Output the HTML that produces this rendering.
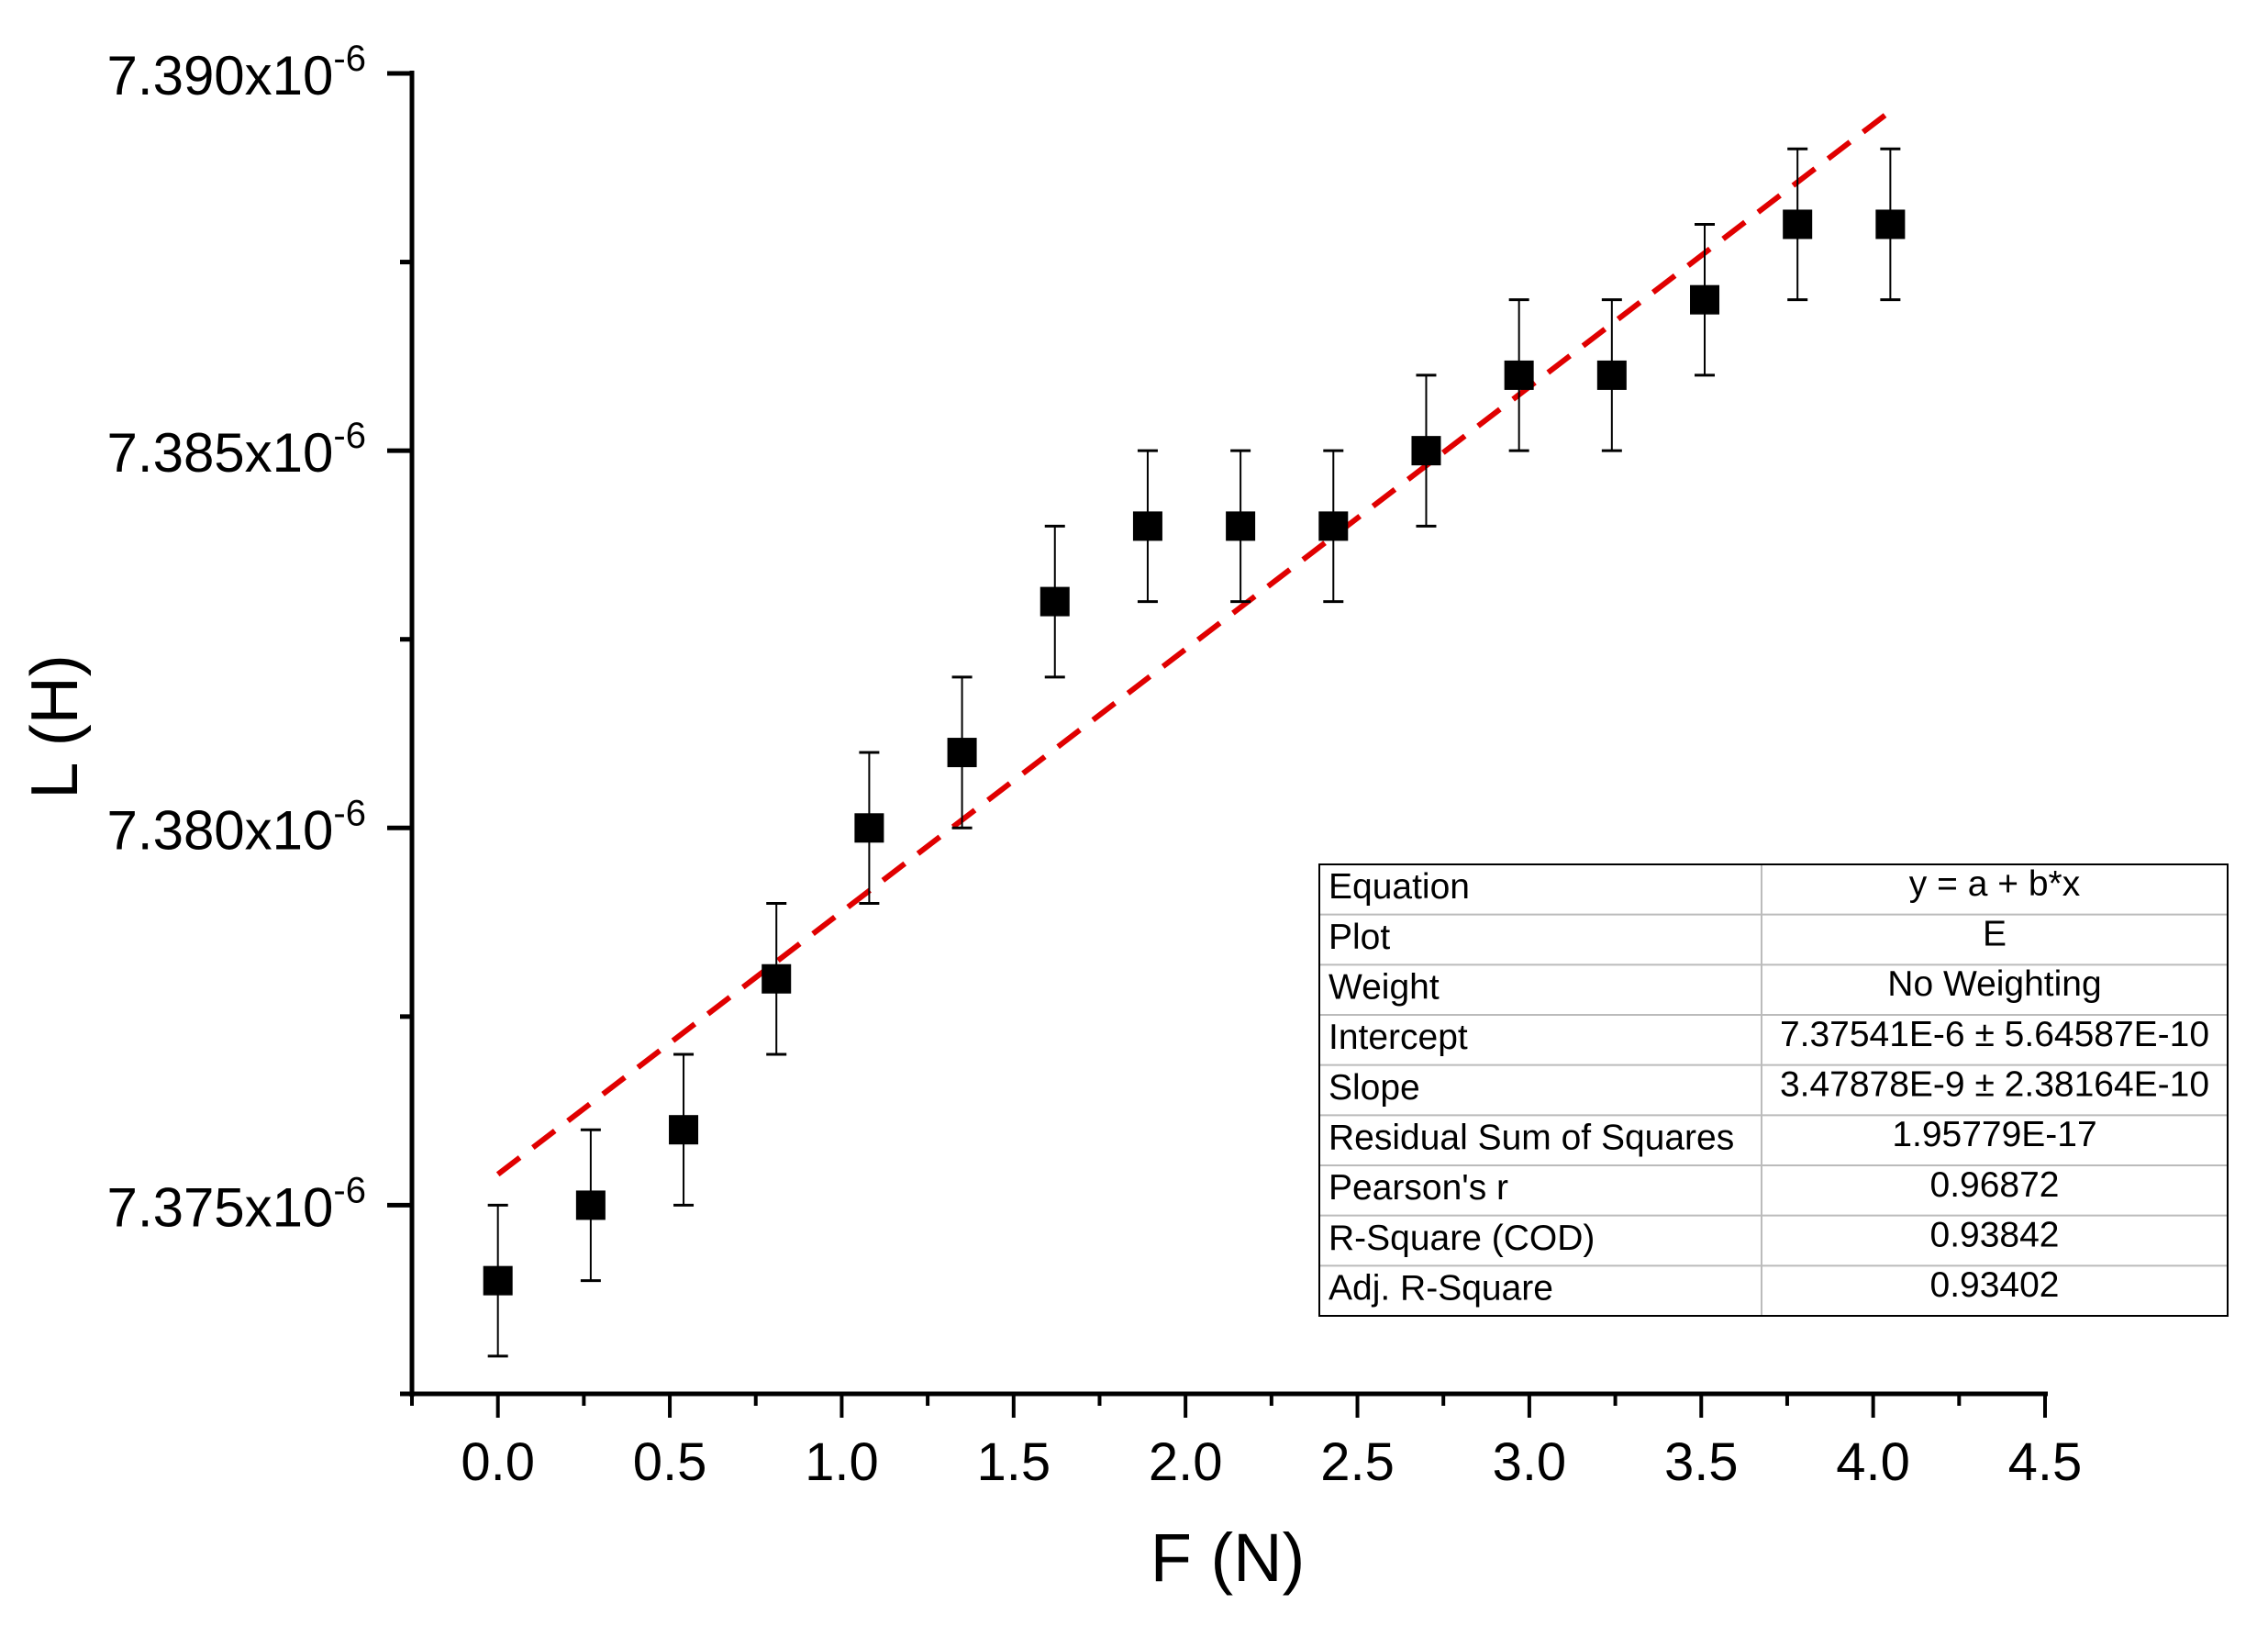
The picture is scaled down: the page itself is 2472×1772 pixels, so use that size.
<!DOCTYPE html>
<html><head><meta charset="utf-8"><style>
html,body{margin:0;padding:0;background:#fff}
svg{display:block;font-family:"Liberation Sans",Arial,sans-serif}
</style></head><body>
<svg id="chart" width="2472" height="1772" viewBox="0 0 2472 1772" xmlns="http://www.w3.org/2000/svg">
<rect width="2472" height="1772" fill="#fff"/>
<g id="axes"></g>
<g id="fit"></g>
<g id="points"></g>
<text transform="translate(84,792) rotate(-90)" text-anchor="middle" font-size="72">L (H)</text>
<text x="1338" y="1723" text-anchor="middle" font-size="74">F (N)</text>
<g id="table"></g>
</svg>
<script>
const xVals = [0.0,0.27,0.54,0.81,1.08,1.35,1.62,1.89,2.16,2.43,2.70,2.97,3.24,3.51,3.78,4.05];
const yVals = [7.374,7.375,7.376,7.378,7.380,7.381,7.383,7.384,7.384,7.384,7.385,7.386,7.386,7.387,7.388,7.388];
const yErr = [0.001,0.001,0.001,0.001,0.001,0.001,0.001,0.001,0.001,0.001,0.001,0.001,0.001,0.001,0.001,0.001];
const fitA = 7.37541, fitB = 0.00347878;
const xTicks = [0.0,0.5,1.0,1.5,2.0,2.5,3.0,3.5,4.0,4.5];
const xTickLabels = ["0.0","0.5","1.0","1.5","2.0","2.5","3.0","3.5","4.0","4.5"];
const yTicks = [7.375,7.380,7.385,7.390];
const yTickLabels = ["7.375","7.380","7.385","7.390"];
const tableRows = [["Equation","y = a + b*x"],["Plot","E"],["Weight","No Weighting"],["Intercept","7.37541E-6 ± 5.64587E-10"],["Slope","3.47878E-9 ± 2.38164E-10"],["Residual Sum of Squares","1.95779E-17"],["Pearson's r","0.96872"],["R-Square (COD)","0.93842"],["Adj. R-Square","0.93402"]];

const NS="http://www.w3.org/2000/svg";
const X0=-0.25,X1=4.5,Y0=7.3725,Y1=7.390;
const PL=449,PR=2229,PT=80,PB=1519;
function sx(v){return PL+(v-X0)/(X1-X0)*(PR-PL);}
function sy(v){return PB-(v-Y0)/(Y1-Y0)*(PB-PT);}
function mk(tag,attrs,parent){const e=document.createElementNS(NS,tag);for(const k in attrs)e.setAttribute(k,attrs[k]);parent.appendChild(e);return e;}
const axes=document.getElementById('axes');
let l=mk('line',{x1:PL,y1:PT-3,x2:PL,y2:PB+3,stroke:'#000','stroke-width':5},axes);


l=mk('line',{x1:PL-3,y1:PB,x2:PR+3,y2:PB,stroke:'#000','stroke-width':5},axes);


for(let v=-0.25;v<=4.501;v+=0.25){
  const major=Math.abs(v*2-Math.round(v*2))<1e-6;
  const t=mk('line',{x1:sx(v),y1:PB,x2:sx(v),y2:PB+(major?26:13),stroke:'#000','stroke-width':4},axes);
  
  
}
xTicks.forEach((v,i)=>{
  const t=mk('text',{x:sx(v),y:1613,'text-anchor':'middle','font-size':58},axes);
  t.textContent=xTickLabels[i];
  
  
});
for(let v=7.3725;v<=7.39001;v+=0.0025){
  const major=Math.abs(v/0.005-Math.round(v/0.005))<1e-4;
  const t=mk('line',{x1:PL,y1:sy(v),x2:PL-(major?27:13),y2:sy(v),stroke:'#000','stroke-width':5},axes);
  
  
}
yTicks.forEach((v,i)=>{
  const t=mk('text',{x:399,y:sy(v)+23,'text-anchor':'end','font-size':60},axes);
  
  
  const a=mk('tspan',{},t);a.textContent=yTickLabels[i]+'x10';
  const b=mk('tspan',{dy:-26,'font-size':40},t);b.textContent='-6';
});
const fit=document.getElementById('fit');
const xe=xVals[xVals.length-1];
mk('line',{x1:sx(0),y1:sy(fitA),x2:sx(xe),y2:sy(fitA+fitB*xe),stroke:'#e00000','stroke-width':6,'stroke-dasharray':'30 18'},fit);
const pts=document.getElementById('points');
xVals.forEach((x,i)=>{
  const g=mk('g',{},pts);
  
  
  const cx=sx(x),yh=sy(yVals[i]+yErr[i]),yl=sy(yVals[i]-yErr[i]);
  mk('line',{x1:cx,y1:yh,x2:cx,y2:yl,stroke:'#000','stroke-width':2},g);
  mk('line',{x1:cx-11,y1:yh,x2:cx+11,y2:yh,stroke:'#000','stroke-width':3},g);
  mk('line',{x1:cx-11,y1:yl,x2:cx+11,y2:yl,stroke:'#000','stroke-width':3},g);
  mk('rect',{x:cx-16,y:sy(yVals[i])-16,width:32,height:32,fill:'#000'},g);
});
const tb=document.getElementById('table');
const TL=1438,TR=2428,TT=942,TB=1434,TC=1920,rh=(TB-TT)/tableRows.length;
tableRows.forEach((r,i)=>{
  const y=TT+i*rh;
  if(i>0){mk('line',{x1:TL,y1:y,x2:TR,y2:y,stroke:'#bbb','stroke-width':2},tb);}
  const a=mk('text',{x:TL+10,y:y+rh*0.68,'font-size':39},tb);a.textContent=r[0];
  
  
  const b=mk('text',{x:(TC+TR)/2,y:y+rh*0.62,'font-size':39,'text-anchor':'middle'},tb);b.textContent=r[1];
  
  
});
mk('line',{x1:TC,y1:TT,x2:TC,y2:TB,stroke:'#bbb','stroke-width':2},tb);
mk('rect',{x:TL,y:TT,width:TR-TL,height:TB-TT,fill:'none',stroke:'#000','stroke-width':2},tb);
</script>
</body></html>
